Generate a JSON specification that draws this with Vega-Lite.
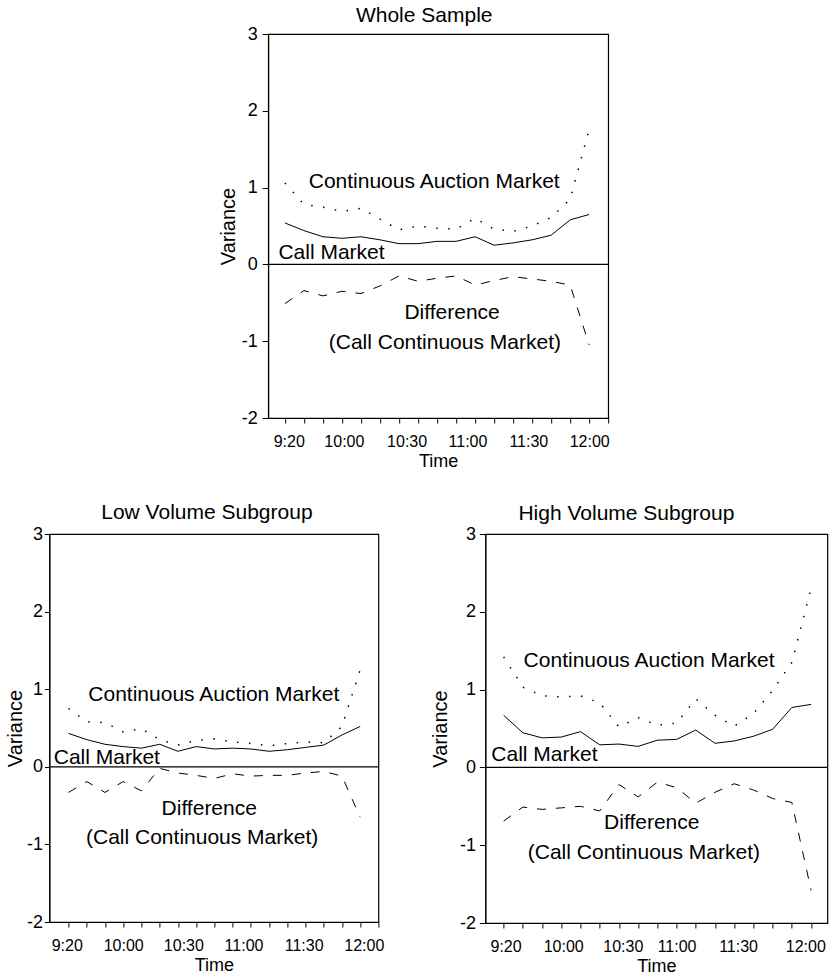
{
  "$schema": "https://vega.github.io/schema/vega-lite/v6.json",
  "padding": {"top": 4, "left": 4, "right": 2, "bottom": 2},
  "background": "white",
  "config": {
    "font": "Liberation Sans",
    "view": {"stroke": "black", "strokeWidth": 1.2},
    "axis": {"domainColor": "black", "tickColor": "black", "labelColor": "black", "titleColor": "black", "grid": false, "titleFontWeight": "normal", "labelFont": "Liberation Sans", "titleFont": "Liberation Sans", "domainWidth": 1, "tickWidth": 1},
    "title": {"fontWeight": "normal", "fontSize": 21, "color": "black", "font": "Liberation Sans", "anchor": "middle"},
    "text": {"font": "Liberation Sans"}
  },
  "datasets": {
    "series": [
      {"panel": "whole", "i": 0, "call": 0.54, "cont": 1.06, "diff": -0.51},
      {"panel": "whole", "i": 1, "call": 0.44, "cont": 0.78, "diff": -0.34},
      {"panel": "whole", "i": 2, "call": 0.36, "cont": 0.745, "diff": -0.41},
      {"panel": "whole", "i": 3, "call": 0.34, "cont": 0.69, "diff": -0.35},
      {"panel": "whole", "i": 4, "call": 0.36, "cont": 0.73, "diff": -0.38},
      {"panel": "whole", "i": 5, "call": 0.32, "cont": 0.59, "diff": -0.28},
      {"panel": "whole", "i": 6, "call": 0.27, "cont": 0.45, "diff": -0.15},
      {"panel": "whole", "i": 7, "call": 0.27, "cont": 0.50, "diff": -0.22},
      {"panel": "whole", "i": 8, "call": 0.30, "cont": 0.47, "diff": -0.18},
      {"panel": "whole", "i": 9, "call": 0.30, "cont": 0.46, "diff": -0.15},
      {"panel": "whole", "i": 10, "call": 0.36, "cont": 0.60, "diff": -0.27},
      {"panel": "whole", "i": 11, "call": 0.25, "cont": 0.46, "diff": -0.21},
      {"panel": "whole", "i": 12, "call": 0.28, "cont": 0.43, "diff": -0.16},
      {"panel": "whole", "i": 13, "call": 0.32, "cont": 0.50, "diff": -0.19},
      {"panel": "whole", "i": 14, "call": 0.38, "cont": 0.61, "diff": -0.22},
      {"panel": "whole", "i": 15, "call": 0.58, "cont": 0.85, "diff": -0.27},
      {"panel": "whole", "i": 16, "call": 0.65, "cont": 1.76, "diff": -1.05},
      {"panel": "low", "i": 0, "call": 0.43, "cont": 0.75, "diff": -0.33},
      {"panel": "low", "i": 1, "call": 0.35, "cont": 0.58, "diff": -0.19},
      {"panel": "low", "i": 2, "call": 0.29, "cont": 0.57, "diff": -0.33},
      {"panel": "low", "i": 3, "call": 0.26, "cont": 0.45, "diff": -0.19},
      {"panel": "low", "i": 4, "call": 0.24, "cont": 0.49, "diff": -0.31},
      {"panel": "low", "i": 5, "call": 0.29, "cont": 0.35, "diff": -0.02},
      {"panel": "low", "i": 6, "call": 0.20, "cont": 0.28, "diff": -0.08},
      {"panel": "low", "i": 7, "call": 0.26, "cont": 0.34, "diff": -0.11},
      {"panel": "low", "i": 8, "call": 0.23, "cont": 0.36, "diff": -0.15},
      {"panel": "low", "i": 9, "call": 0.24, "cont": 0.32, "diff": -0.09},
      {"panel": "low", "i": 10, "call": 0.23, "cont": 0.30, "diff": -0.12},
      {"panel": "low", "i": 11, "call": 0.20, "cont": 0.27, "diff": -0.11},
      {"panel": "low", "i": 12, "call": 0.22, "cont": 0.30, "diff": -0.11},
      {"panel": "low", "i": 13, "call": 0.25, "cont": 0.32, "diff": -0.08},
      {"panel": "low", "i": 14, "call": 0.28, "cont": 0.31, "diff": -0.06},
      {"panel": "low", "i": 15, "call": 0.41, "cont": 0.52, "diff": -0.12},
      {"panel": "low", "i": 16, "call": 0.52, "cont": 1.25, "diff": -0.65},
      {"panel": "high", "i": 0, "call": 0.67, "cont": 1.42, "diff": -0.69},
      {"panel": "high", "i": 1, "call": 0.445, "cont": 1.03, "diff": -0.51},
      {"panel": "high", "i": 2, "call": 0.38, "cont": 0.92, "diff": -0.54},
      {"panel": "high", "i": 3, "call": 0.39, "cont": 0.905, "diff": -0.52},
      {"panel": "high", "i": 4, "call": 0.46, "cont": 0.92, "diff": -0.50},
      {"panel": "high", "i": 5, "call": 0.29, "cont": 0.83, "diff": -0.56},
      {"panel": "high", "i": 6, "call": 0.30, "cont": 0.52, "diff": -0.22},
      {"panel": "high", "i": 7, "call": 0.27, "cont": 0.64, "diff": -0.38},
      {"panel": "high", "i": 8, "call": 0.35, "cont": 0.54, "diff": -0.19},
      {"panel": "high", "i": 9, "call": 0.36, "cont": 0.57, "diff": -0.26},
      {"panel": "high", "i": 10, "call": 0.48, "cont": 0.88, "diff": -0.46},
      {"panel": "high", "i": 11, "call": 0.31, "cont": 0.67, "diff": -0.32},
      {"panel": "high", "i": 12, "call": 0.34, "cont": 0.53, "diff": -0.21},
      {"panel": "high", "i": 13, "call": 0.40, "cont": 0.69, "diff": -0.29},
      {"panel": "high", "i": 14, "call": 0.49, "cont": 0.99, "diff": -0.40},
      {"panel": "high", "i": 15, "call": 0.77, "cont": 1.35, "diff": -0.45},
      {"panel": "high", "i": 16, "call": 0.81, "cont": 2.30, "diff": -1.58}
    ],
    "notes": [
      {"panel": "whole", "label": "Continuous Auction Market", "x": 7.85, "y": 0.99},
      {"panel": "whole", "label": "Call Market", "x": 2.45, "y": 0.066},
      {"panel": "whole", "label": "Difference", "x": 8.79, "y": -0.714},
      {"panel": "whole", "label": "(Call Continuous Market)", "x": 8.41, "y": -1.10},
      {"panel": "low", "label": "Continuous Auction Market", "x": 7.97, "y": 0.854},
      {"panel": "low", "label": "Call Market", "x": 2.1, "y": 0.035},
      {"panel": "low", "label": "Difference", "x": 7.72, "y": -0.615},
      {"panel": "low", "label": "(Call Continuous Market)", "x": 7.33, "y": -0.99},
      {"panel": "high", "label": "Continuous Auction Market", "x": 7.57, "y": 1.29},
      {"panel": "high", "label": "Call Market", "x": 2.12, "y": 0.08},
      {"panel": "high", "label": "Difference", "x": 7.71, "y": -0.795},
      {"panel": "high", "label": "(Call Continuous Market)", "x": 7.3, "y": -1.175}
    ]
  },
  "spacing": 29,
  "center": true,
  "vconcat": [
    {
      "width": 340, "height": 384,
      "title": {"text": "Whole Sample", "offset": -1, "dx": -14},
      "data": {"name": "series"},
      "transform": [{"filter": "datum.panel === 'whole'"}],
      "layer": [
        {"mark": {"type": "line", "color": "black", "strokeWidth": 1.5, "strokeDash": [1.5, 10.5]},
         "encoding": {
           "x": {"field": "i", "type": "quantitative", "scale": {"domain": [-0.88, 17], "nice": false, "zero": false},
                 "axis": {"orient": "bottom", "values": [0,1,2,3,4,5,6,7,8,9,10,11,12,13,14,15,16,17], "labels": false, "tickSize": 5, "title": null}},
           "y": {"field": "cont", "type": "quantitative", "scale": {"domain": [-2, 3], "nice": false, "zero": false},
                 "axis": {"values": [-2,-1,0,1,2,3], "labelExpr": "'' + datum.value", "tickSize": 6, "labelPadding": 5, "labelFontSize": 18, "title": "Variance", "titleFontSize": 20, "titlePadding": 3}}}},
        {"mark": {"type": "line", "color": "black", "strokeWidth": 1},
         "encoding": {
           "x": {"field": "i", "type": "quantitative", "scale": {"domain": [-0.88, 17], "nice": false, "zero": false}, "axis": null},
           "y": {"field": "call", "type": "quantitative", "scale": {"domain": [-2, 3], "nice": false, "zero": false},
                 "axis": {"values": [-2,-1,0,1,2,3], "labelExpr": "'' + datum.value", "tickSize": 6, "labelPadding": 5, "labelFontSize": 18, "title": "Variance", "titleFontSize": 20, "titlePadding": 3}}}},
        {"mark": {"type": "line", "color": "black", "strokeWidth": 1, "strokeDash": [9, 10]},
         "encoding": {
           "x": {"field": "i", "type": "quantitative", "scale": {"domain": [-0.88, 17], "nice": false, "zero": false}, "axis": null},
           "y": {"field": "diff", "type": "quantitative", "scale": {"domain": [-2, 3], "nice": false, "zero": false},
                 "axis": {"values": [-2,-1,0,1,2,3], "labelExpr": "'' + datum.value", "tickSize": 6, "labelPadding": 5, "labelFontSize": 18, "title": "Variance", "titleFontSize": 20, "titlePadding": 3}}}},
        {"data": {"values": [{"level": 0}]},
         "mark": {"type": "rule", "color": "black", "strokeWidth": 1.2},
         "encoding": {"y": {"field": "level", "type": "quantitative", "scale": {"domain": [-2, 3], "nice": false, "zero": false},
                 "axis": {"values": [-2,-1,0,1,2,3], "labelExpr": "'' + datum.value", "tickSize": 6, "labelPadding": 5, "labelFontSize": 18, "title": "Variance", "titleFontSize": 20, "titlePadding": 3}}}},
        {"data": {"name": "notes"},
         "transform": [{"filter": "datum.panel === 'whole'"}],
         "mark": {"type": "text", "fontSize": 21, "align": "center", "baseline": "alphabetic", "color": "black"},
         "encoding": {
           "x": {"field": "x", "type": "quantitative", "scale": {"domain": [-0.88, 17], "nice": false, "zero": false},
                 "axis": {"orient": "bottom", "values": [0.2, 3.1, 6.4, 9.6, 12.8, 16], "ticks": false, "domain": false, "labelPadding": 15, "labelFontSize": 16, "labelFlush": false, "labelOverlap": false,
                          "labelExpr": "datum.value < 1.5 ? '9:20' : datum.value < 4.5 ? '10:00' : datum.value < 8 ? '10:30' : datum.value < 11 ? '11:00' : datum.value < 14 ? '11:30' : '12:00'",
                          "title": "Time", "titleFontSize": 18, "titlePadding": 3}},
           "y": {"field": "y", "type": "quantitative", "scale": {"domain": [-2, 3], "nice": false, "zero": false},
                 "axis": {"values": [-2,-1,0,1,2,3], "labelExpr": "'' + datum.value", "tickSize": 6, "labelPadding": 5, "labelFontSize": 18, "title": "Variance", "titleFontSize": 20, "titlePadding": 3}},
           "text": {"field": "label"}}}
      ],
      "resolve": {"axis": {"x": "independent"}}
    },
    {
      "spacing": 44,
      "hconcat": [
        {
          "width": 329, "height": 388,
          "title": {"text": "Low Volume Subgroup", "offset": 2.5, "dx": -7},
          "data": {"name": "series"},
          "transform": [{"filter": "datum.panel === 'low'"}],
          "layer": [
            {"mark": {"type": "line", "color": "black", "strokeWidth": 1.5, "strokeDash": [1.5, 10.5]},
             "encoding": {
               "x": {"field": "i", "type": "quantitative", "scale": {"domain": [-1.05, 17], "nice": false, "zero": false},
                     "axis": {"orient": "bottom", "values": [0,1,2,3,4,5,6,7,8,9,10,11,12,13,14,15,16,17], "labels": false, "tickSize": 5, "title": null}},
               "y": {"field": "cont", "type": "quantitative", "scale": {"domain": [-2, 3], "nice": false, "zero": false},
                     "axis": {"values": [-2,-1,0,1,2,3], "labelExpr": "'' + datum.value", "tickSize": 5, "labelPadding": 2, "labelFontSize": 18, "title": "Variance", "titleFontSize": 20, "titlePadding": 1}}}},
            {"mark": {"type": "line", "color": "black", "strokeWidth": 1},
             "encoding": {
               "x": {"field": "i", "type": "quantitative", "scale": {"domain": [-1.05, 17], "nice": false, "zero": false}, "axis": null},
               "y": {"field": "call", "type": "quantitative", "scale": {"domain": [-2, 3], "nice": false, "zero": false},
                     "axis": {"values": [-2,-1,0,1,2,3], "labelExpr": "'' + datum.value", "tickSize": 5, "labelPadding": 2, "labelFontSize": 18, "title": "Variance", "titleFontSize": 20, "titlePadding": 1}}}},
            {"mark": {"type": "line", "color": "black", "strokeWidth": 1, "strokeDash": [9, 10]},
             "encoding": {
               "x": {"field": "i", "type": "quantitative", "scale": {"domain": [-1.05, 17], "nice": false, "zero": false}, "axis": null},
               "y": {"field": "diff", "type": "quantitative", "scale": {"domain": [-2, 3], "nice": false, "zero": false},
                     "axis": {"values": [-2,-1,0,1,2,3], "labelExpr": "'' + datum.value", "tickSize": 5, "labelPadding": 2, "labelFontSize": 18, "title": "Variance", "titleFontSize": 20, "titlePadding": 1}}}},
            {"data": {"values": [{"level": 0}]},
             "mark": {"type": "rule", "color": "black", "strokeWidth": 1.2},
             "encoding": {"y": {"field": "level", "type": "quantitative", "scale": {"domain": [-2, 3], "nice": false, "zero": false},
                     "axis": {"values": [-2,-1,0,1,2,3], "labelExpr": "'' + datum.value", "tickSize": 5, "labelPadding": 2, "labelFontSize": 18, "title": "Variance", "titleFontSize": 20, "titlePadding": 1}}}},
            {"data": {"name": "notes"},
             "transform": [{"filter": "datum.panel === 'low'"}],
             "mark": {"type": "text", "fontSize": 21, "align": "center", "baseline": "alphabetic", "color": "black"},
             "encoding": {
               "x": {"field": "x", "type": "quantitative", "scale": {"domain": [-1.05, 17], "nice": false, "zero": false},
                     "axis": {"orient": "bottom", "values": [-0.1, 3, 6.3, 9.6, 12.9, 16.2], "ticks": false, "domain": false, "labelPadding": 15, "labelFontSize": 16, "labelFlush": false, "labelOverlap": false,
                              "labelExpr": "datum.value < 1.5 ? '9:20' : datum.value < 4.5 ? '10:00' : datum.value < 8 ? '10:30' : datum.value < 11 ? '11:00' : datum.value < 14 ? '11:30' : '12:00'",
                              "title": "Time", "titleFontSize": 18, "titlePadding": 3}},
               "y": {"field": "y", "type": "quantitative", "scale": {"domain": [-2, 3], "nice": false, "zero": false},
                     "axis": {"values": [-2,-1,0,1,2,3], "labelExpr": "'' + datum.value", "tickSize": 5, "labelPadding": 2, "labelFontSize": 18, "title": "Variance", "titleFontSize": 20, "titlePadding": 1}},
               "text": {"field": "label"}}}
          ],
          "resolve": {"axis": {"x": "independent"}}
        },
        {
          "width": 342, "height": 389,
          "title": {"text": "High Volume Subgroup", "offset": 1, "dx": -30},
          "data": {"name": "series"},
          "transform": [{"filter": "datum.panel === 'high'"}],
          "layer": [
            {"mark": {"type": "line", "color": "black", "strokeWidth": 1.5, "strokeDash": [1.5, 10.5]},
             "encoding": {
               "x": {"field": "i", "type": "quantitative", "scale": {"domain": [-0.95, 16.85], "nice": false, "zero": false},
                     "axis": {"orient": "bottom", "values": [0,1,2,3,4,5,6,7,8,9,10,11,12,13,14,15,16,17], "labels": false, "tickSize": 5, "title": null}},
               "y": {"field": "cont", "type": "quantitative", "scale": {"domain": [-2, 3], "nice": false, "zero": false},
                     "axis": {"values": [-2,-1,0,1,2,3], "labelExpr": "'' + datum.value", "tickSize": 6, "labelPadding": 4, "labelFontSize": 18, "title": "Variance", "titleFontSize": 20, "titlePadding": 9}}}},
            {"mark": {"type": "line", "color": "black", "strokeWidth": 1},
             "encoding": {
               "x": {"field": "i", "type": "quantitative", "scale": {"domain": [-0.95, 16.85], "nice": false, "zero": false}, "axis": null},
               "y": {"field": "call", "type": "quantitative", "scale": {"domain": [-2, 3], "nice": false, "zero": false},
                     "axis": {"values": [-2,-1,0,1,2,3], "labelExpr": "'' + datum.value", "tickSize": 6, "labelPadding": 4, "labelFontSize": 18, "title": "Variance", "titleFontSize": 20, "titlePadding": 9}}}},
            {"mark": {"type": "line", "color": "black", "strokeWidth": 1, "strokeDash": [9, 10]},
             "encoding": {
               "x": {"field": "i", "type": "quantitative", "scale": {"domain": [-0.95, 16.85], "nice": false, "zero": false}, "axis": null},
               "y": {"field": "diff", "type": "quantitative", "scale": {"domain": [-2, 3], "nice": false, "zero": false},
                     "axis": {"values": [-2,-1,0,1,2,3], "labelExpr": "'' + datum.value", "tickSize": 6, "labelPadding": 4, "labelFontSize": 18, "title": "Variance", "titleFontSize": 20, "titlePadding": 9}}}},
            {"data": {"values": [{"level": 0}]},
             "mark": {"type": "rule", "color": "black", "strokeWidth": 1.2},
             "encoding": {"y": {"field": "level", "type": "quantitative", "scale": {"domain": [-2, 3], "nice": false, "zero": false},
                     "axis": {"values": [-2,-1,0,1,2,3], "labelExpr": "'' + datum.value", "tickSize": 6, "labelPadding": 4, "labelFontSize": 18, "title": "Variance", "titleFontSize": 20, "titlePadding": 9}}}},
            {"data": {"name": "notes"},
             "transform": [{"filter": "datum.panel === 'high'"}],
             "mark": {"type": "text", "fontSize": 21, "align": "center", "baseline": "alphabetic", "color": "black"},
             "encoding": {
               "x": {"field": "x", "type": "quantitative", "scale": {"domain": [-0.95, 16.85], "nice": false, "zero": false},
                     "axis": {"orient": "bottom", "values": [0.1, 3.1, 6.2, 9.0, 12.2, 15.7], "ticks": false, "domain": false, "labelPadding": 15, "labelFontSize": 16, "labelFlush": false, "labelOverlap": false,
                              "labelExpr": "datum.value < 1.5 ? '9:20' : datum.value < 4.5 ? '10:00' : datum.value < 8 ? '10:30' : datum.value < 11 ? '11:00' : datum.value < 14 ? '11:30' : '12:00'",
                              "title": "Time", "titleFontSize": 18, "titlePadding": 3}},
               "y": {"field": "y", "type": "quantitative", "scale": {"domain": [-2, 3], "nice": false, "zero": false},
                     "axis": {"values": [-2,-1,0,1,2,3], "labelExpr": "'' + datum.value", "tickSize": 6, "labelPadding": 4, "labelFontSize": 18, "title": "Variance", "titleFontSize": 20, "titlePadding": 9}},
               "text": {"field": "label"}}}
          ],
          "resolve": {"axis": {"x": "independent"}}
        }
      ]
    }
  ]
}
